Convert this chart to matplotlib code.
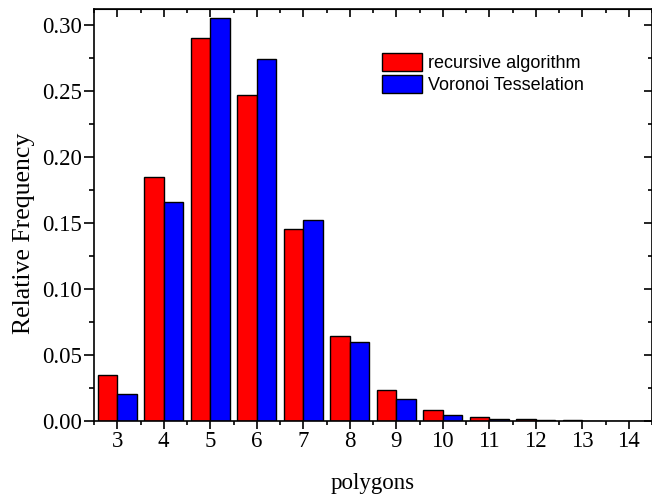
import matplotlib
matplotlib.use("Agg")
import matplotlib.pyplot as plt
import numpy as np
from matplotlib.ticker import MultipleLocator, FormatStrFormatter

polygons = [3, 4, 5, 6, 7, 8, 9, 10, 11, 12, 13, 14]
recursive = [0.035, 0.185, 0.290, 0.247, 0.145, 0.064, 0.023, 0.008, 0.0028, 0.0012, 0.0003, 0.0001]
voronoi = [0.0205, 0.166, 0.305, 0.274, 0.152, 0.060, 0.0167, 0.0045, 0.001, 0.0003, 0.0001, 0.0]
series_labels = ["recursive algorithm", "Voronoi Tesselation"]

plt.rcParams['font.family'] = ['Liberation Serif', 'DejaVu Serif']

fig = plt.figure(figsize=(6.52, 4.95), dpi=100)
ax = fig.add_axes([94/652, (495-420.7)/495, (652-94)/652, (420.7-9)/495])

x = np.array(polygons, dtype=float)
w = 0.42
ax.bar(x - w/2, recursive, width=w, color='#ff0000', edgecolor='black', linewidth=1.0, label=series_labels[0])
ax.bar(x + w/2, voronoi, width=w, color='#0000ff', edgecolor='black', linewidth=1.0, label=series_labels[1])

ax.set_xlim(2.5, 14.5)
ax.set_ylim(0, 0.312)
ax.xaxis.set_major_locator(MultipleLocator(1))
ax.xaxis.set_minor_locator(MultipleLocator(0.5))
ax.yaxis.set_major_locator(MultipleLocator(0.05))
ax.yaxis.set_minor_locator(MultipleLocator(0.025))
ax.yaxis.set_major_formatter(FormatStrFormatter('%.2f'))

for s in ax.spines.values():
    s.set_linewidth(1.2)

ax.tick_params(axis='both', which='both', width=1.2, labelsize=16.5)
ax.tick_params(axis='x', which='major', direction='out', length=5.5, pad=2)
ax.tick_params(axis='x', which='minor', direction='out', length=3.2)
ax.tick_params(axis='y', which='major', direction='out', length=7, pad=1.5)
ax.tick_params(axis='y', which='minor', direction='out', length=3.8)

# top and right inward ticks
axt = ax.secondary_xaxis('top')
axt.xaxis.set_major_locator(MultipleLocator(1))
axt.xaxis.set_minor_locator(MultipleLocator(0.5))
axt.tick_params(axis='x', which='major', direction='in', length=5.5, width=1.2, labeltop=False)
axt.tick_params(axis='x', which='minor', direction='in', length=3.2, width=1.2)
axr = ax.secondary_yaxis('right')
axr.yaxis.set_major_locator(MultipleLocator(0.05))
axr.yaxis.set_minor_locator(MultipleLocator(0.025))
axr.tick_params(axis='y', which='major', direction='in', length=5.5, width=1.2, labelright=False)
axr.tick_params(axis='y', which='minor', direction='in', length=3.2, width=1.2)

ax.set_xlabel("polygons", fontsize=16.5, labelpad=15)
ax.set_ylabel("Relative Frequency", fontsize=18.5)
ax.yaxis.set_label_coords(-0.105, 0.456)

leg = ax.legend(loc='upper left', bbox_to_anchor=(0.517, 0.893), frameon=False,
                prop={'family': 'Liberation Sans', 'size': 13},
                handlelength=2.2, handleheight=1.15, handletextpad=0.3,
                labelspacing=0.15, borderpad=0, borderaxespad=0)

fig.savefig("out.png", dpi=100)
